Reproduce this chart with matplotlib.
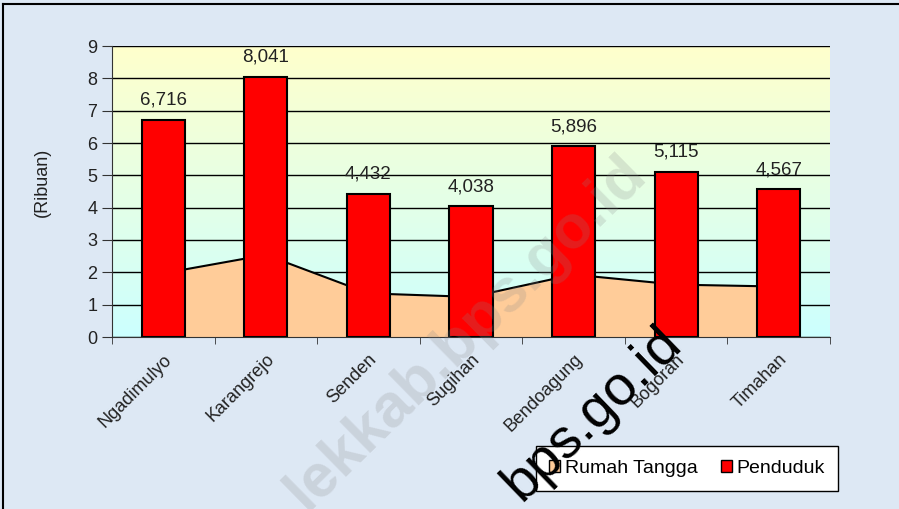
import numpy as np
import matplotlib
matplotlib.use("Agg")
from matplotlib import pyplot as plt
from matplotlib.patches import Patch
from matplotlib.lines import Line2D

plt.rcParams['font.family'] = ['Liberation Sans', 'DejaVu Sans']

desa = ['Ngadimulyo', 'Karangrejo', 'Senden', 'Sugihan',
        'Bendoagung', 'Bogoran', 'Timahan']
penduduk = [6.716, 8.041, 4.432, 4.038, 5.896, 5.115, 4.567]
rumah_tangga = [1.97, 2.54, 1.35, 1.24, 1.93, 1.62, 1.56]
label_penduduk = ['6,716', '8,041', '4,432', '4,038', '5,896', '5,115', '4,567']

W, H = 899, 509
fig = plt.figure(figsize=(W / 100, H / 100), dpi=100)
fig.patch.set_facecolor('#dde8f4')

ax = fig.add_axes([112 / W, 1 - 337 / H, 718 / W, 291 / H])
x = np.arange(len(desa))

# gradient background of the plot area (yellow -> cyan)
grad = np.linspace(0, 1, 256).reshape(-1, 1)
top = np.array([1.0, 1.0, 0.80])
bot = np.array([0.80, 1.0, 1.0])
img = top[None, None, :] * (1 - grad[:, :, None]) + bot[None, None, :] * grad[:, :, None]
ax.imshow(img, extent=[-0.5, 6.5, 0, 9], aspect='auto', zorder=0, origin='upper')

ax.set_ylim(0, 9)
ax.set_xlim(-0.5, 6.5)
ax.set_yticks(range(10))
ax.yaxis.grid(True, color='black', linewidth=1.0, zorder=1)
ax.set_axisbelow(True)

ax.fill_between(x, rumah_tangga, 0, color='#ffcc99', zorder=2, linewidth=0)
ax.plot(x, rumah_tangga, color='black', linewidth=1.5, zorder=2.5)

ax.bar(x, penduduk, width=0.42, color='#ff0000', edgecolor='black',
       linewidth=1.5, zorder=3)

for xi, v, s in zip(x, penduduk, label_penduduk):
    ax.annotate(s, (xi, v), xytext=(0, 8), textcoords='offset points',
                ha='center', va='bottom', fontsize=13.5, color='#222222')

for side in ['top', 'right']:
    ax.spines[side].set_visible(False)
ax.spines['left'].set_color('#333333')
ax.spines['bottom'].set_color('#333333')
ax.spines['bottom'].set_zorder(4)

ax.set_xticks(x)
ax.set_xticklabels(desa, rotation=45, ha='right', rotation_mode='anchor',
                   fontsize=13, color='#222222')
ax.set_xticks(np.arange(-0.5, 7, 1), minor=True)
ax.tick_params(axis='x', which='major', length=0, pad=10)
ax.tick_params(axis='x', which='minor', length=5, direction='out', color='#333333')
ax.tick_params(axis='y', length=7, labelsize=13, color='#333333', labelcolor='#222222')

fig.text(42 / W, 1 - 182 / H, '(Ribuan)', rotation=90, ha='center', va='center',
         fontsize=13, color='#222222')

handles = [Patch(facecolor='#ffcc99', edgecolor='black', label='Rumah Tangga'),
           Patch(facecolor='#ff0000', edgecolor='black', label='Penduduk')]
leg = fig.legend(handles=handles, loc='center', bbox_to_anchor=(687 / W, 1 - 468.5 / H),
                 ncol=2, fontsize=14, frameon=True, fancybox=False,
                 handlelength=0.55, handleheight=0.55, handletextpad=0.25,
                 columnspacing=1.2, borderpad=0.7)
leg.get_frame().set_edgecolor('black')
leg.get_frame().set_facecolor('white')
leg.get_frame().set_alpha(1)

# frame of the picture (left and top)
fig.add_artist(Line2D([3 / W, 3 / W], [0, 1 - 4 / H], color='black', linewidth=1.5))
fig.add_artist(Line2D([3 / W, 1], [1 - 4 / H, 1 - 4 / H], color='black', linewidth=1.5))

# watermarks
fig.text(477 / W, 1 - 344 / H, 'lekkab.bps.go.id', rotation=44.5,
         rotation_mode='anchor', ha='center', va='baseline', fontsize=44,
         fontweight='bold', color='#888888', alpha=0.22, zorder=10)
fig.text(602 / W, 1 - 424 / H, 'bps.go.id', rotation=44,
         rotation_mode='anchor', ha='center', va='baseline', fontsize=40,
         color='black', zorder=11)

fig.savefig('out.png', dpi=100, facecolor=fig.get_facecolor())
